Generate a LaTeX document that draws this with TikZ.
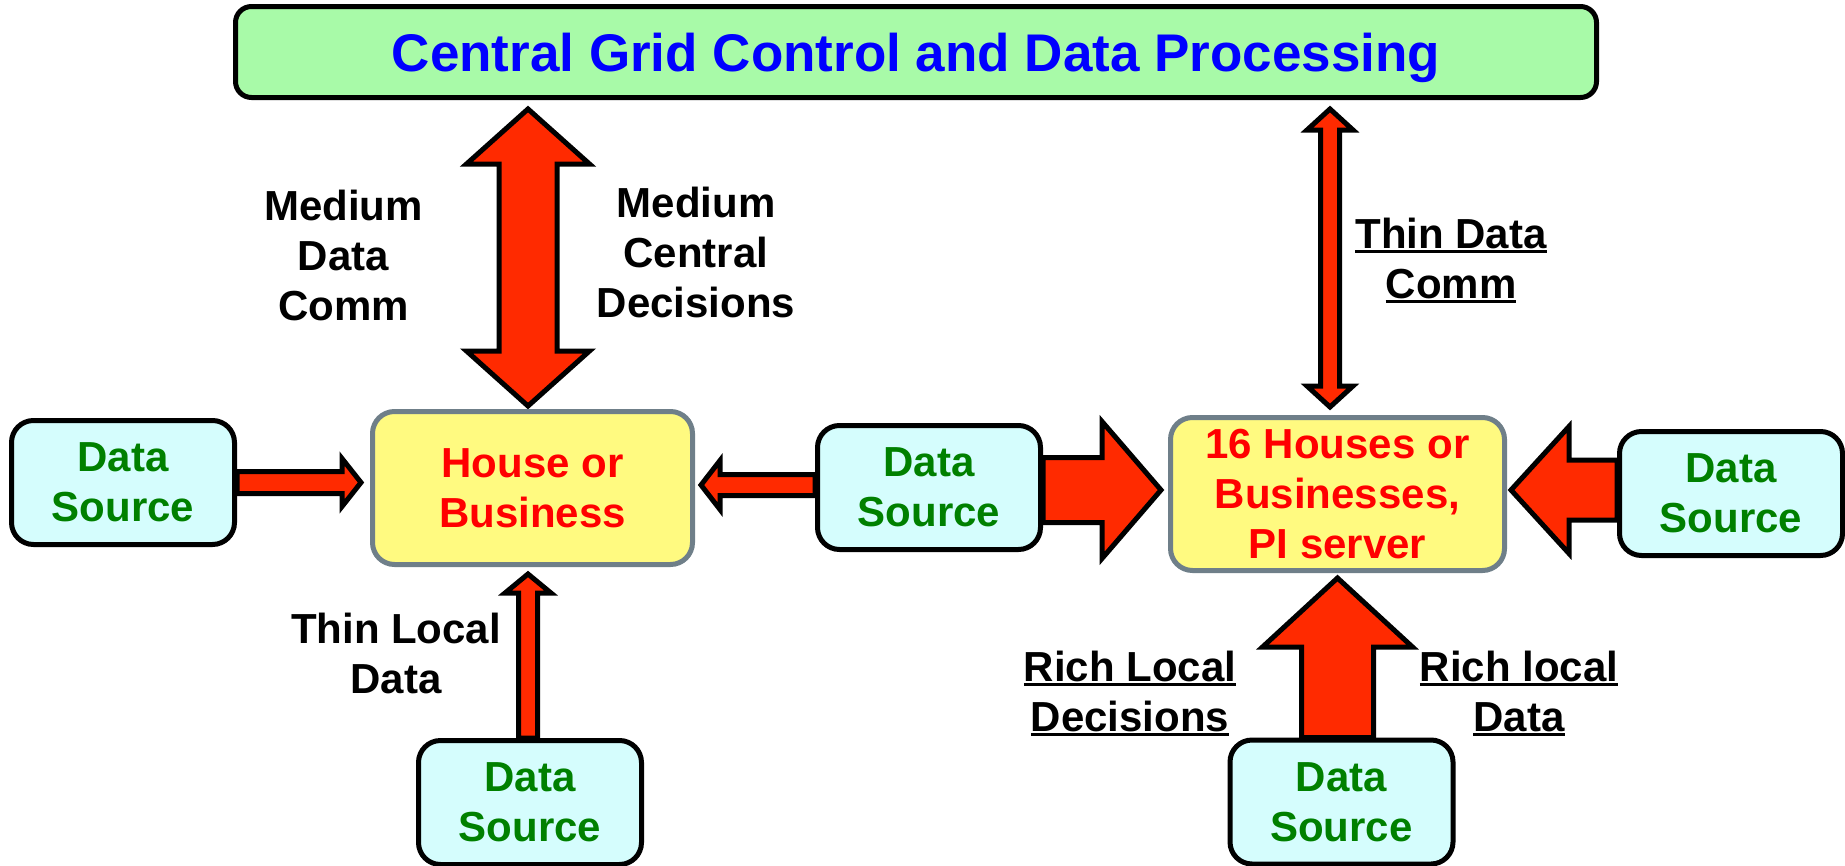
\documentclass[tikz,border=0pt]{standalone}
\usepackage{fontspec}
\setmainfont{Liberation Sans}
\usetikzlibrary{calc}
\pgfdeclarelayer{bg}
\pgfsetlayers{bg,main}
\definecolor{topgreen}{HTML}{A8FAA8}
\definecolor{dscyan}{HTML}{D5FDFD}
\definecolor{hyellow}{HTML}{FFFA80}
\definecolor{hgray}{HTML}{6F7F89}
\definecolor{arrred}{HTML}{FF2A00}
\definecolor{txtgreen}{HTML}{008000}
\newcommand{\lbl}{\fontsize{42}{50}\selectfont\bfseries}
\newcommand{\ttl}{\fontsize{53}{64}\selectfont\bfseries}
\newcommand{\ulin}[1]{\setbox0\hbox{#1}\rlap{\rule[-4.5pt]{\wd0}{3pt}}\box0}
% horizontal block arrow: tail, tip, shaft half, head half, head length
\newcommand{\hblock}[5]{\path[blockarrow] let \p1=#1, \p2=#2, \n1={ifthenelse(\x2>\x1,-#5,#5)} in
  (\x1,{\y2+#3pt}) -- ({\x2+\n1},{\y2+#3pt}) -- ({\x2+\n1},{\y2+#4pt}) -- (\x2,\y2)
  -- ({\x2+\n1},{\y2-#4pt}) -- ({\x2+\n1},{\y2-#3pt}) -- (\x1,{\y2-#3pt}) -- cycle;}
% vertical block arrow
\newcommand{\vblock}[5]{\path[blockarrow] let \p1=#1, \p2=#2, \n1={ifthenelse(\y2>\y1,-#5,#5)} in
  ({\x2+#3pt},\y1) -- ({\x2+#3pt},{\y2+\n1}) -- ({\x2+#4pt},{\y2+\n1}) -- (\x2,\y2)
  -- ({\x2-#4pt},{\y2+\n1}) -- ({\x2-#3pt},{\y2+\n1}) -- ({\x2-#3pt},\y1) -- cycle;}
% vertical double block arrow: top tip, bottom tip, shaft half, head half, head length
\newcommand{\vdouble}[5]{\path[blockarrow] let \p1=#1, \p2=#2 in
  (\x1,\y1) -- ({\x1+#4pt},{\y1-#5pt}) -- ({\x1+#3pt},{\y1-#5pt}) -- ({\x1+#3pt},{\y2+#5pt})
  -- ({\x1+#4pt},{\y2+#5pt}) -- (\x1,\y2) -- ({\x1-#4pt},{\y2+#5pt}) -- ({\x1-#3pt},{\y2+#5pt})
  -- ({\x1-#3pt},{\y1-#5pt}) -- ({\x1-#4pt},{\y1-#5pt}) -- cycle;}
\tikzset{
  topbox/.style={draw=black, line width=5pt, fill=topgreen, rounded corners=16pt,
    minimum width=1361pt, minimum height=91pt, inner sep=0pt, text=blue, font=\ttl,
    text depth=0pt},
  dsbox/.style={draw=black, line width=5pt, fill=dscyan, rounded corners=22pt,
    minimum width=223pt, minimum height=124pt, inner sep=0pt, align=center,
    text=txtgreen, font=\lbl},
  hbox/.style={draw=hgray, line width=5pt, fill=hyellow, rounded corners=22pt,
    minimum height=153pt, inner sep=0pt, align=center, text=red, font=\lbl},
  lbl/.style={align=center, inner sep=0pt, text=black, font=\lbl},
  blockarrow/.style={draw=black, fill=arrred, line width=5pt, line join=miter, miter limit=10},
}
\begin{document}
\begin{tikzpicture}[x=1pt,y=-1pt]
\useasboundingbox (0,0) rectangle (1845,865);
\node[topbox] (T) at (916,52) {Central Grid Control and Data Processing};
\node[hbox, minimum width=320pt] (H1) at (532.5,488) {House or\\Business};
\node[hbox, minimum width=334pt] (H2) at (1337.5,494) {16 Houses or\\Businesses,\\PI server};
\node[dsbox] (DS1) at (123,482.5) {Data\\Source};
\node[dsbox] (DS2) at (929,487.5) {Data\\Source};
\node[dsbox] (DS3) at (1731,493.5) {Data\\Source};
\node[dsbox] (DS4) at (530,802.5) {Data\\Source};
\node[dsbox] (DS5) at (1341.5,802) {Data\\Source};
\node[lbl] (L1) at (343.5,255) {Medium\\Data\\Comm};
\node[lbl] (L2) at (696,252) {Medium\\Central\\Decisions};
\node[lbl] (L3) at (1451,261) {\ulin{Thin Data}\\\ulin{Comm}};
\node[lbl] (L4) at (396,653) {Thin Local\\Data};
\node[lbl] (L5) at (1130,694) {\ulin{Rich Local}\\\ulin{Decisions}};
\node[lbl] (L6) at (1519,694) {\ulin{Rich local}\\\ulin{Data}};
\begin{pgfonlayer}{bg}
\vdouble{($(T.south -| H1.north)+(-4.5,9)$)}{($(H1.north)+(-4.5,-3)$)}{29}{61.5}{55}
\vdouble{($(T.south -| H2.north)+(-7.5,9)$)}{($(H2.north)+(-7.5,-8)$)}{9.5}{23}{21}
\hblock{(DS1.east)}{($(H1.west |- DS1.east)+(-9,0)$)}{11}{24}{19}
\hblock{(DS2.west)}{($(H1.east |- DS2.west)+(6,-2.5)$)}{10.5}{24.5}{19}
\hblock{(DS2.east)}{($(H2.west)+(-7,-4)$)}{32.5}{68.5}{59}
\hblock{(DS3.west)}{($(H2.east)+(4,-4)$)}{30}{63.5}{58}
\vblock{(DS4.north)}{($(H1.south)+(-4.5,7)$)}{9.5}{23}{19}
\vblock{(DS5.north)}{($(H2.south)+(0,5)$)}{36}{75}{69}
\end{pgfonlayer}
\end{tikzpicture}
\end{document}
